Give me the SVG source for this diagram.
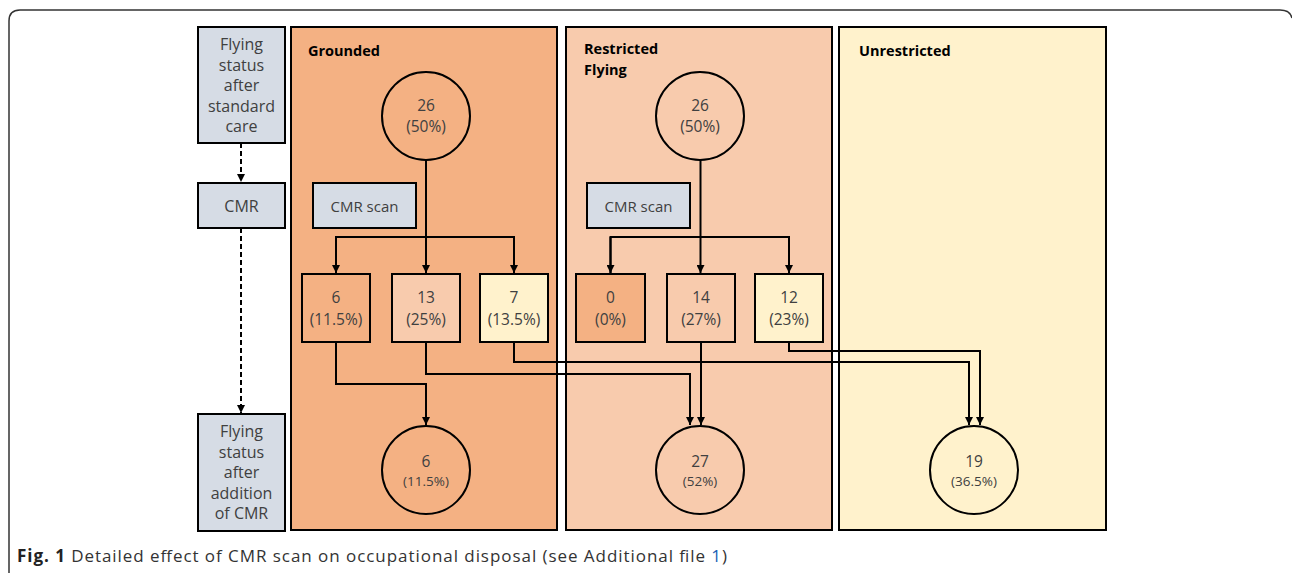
<svg xmlns="http://www.w3.org/2000/svg" width="1292" height="573" viewBox="0 0 1292 573">
<defs>
<marker id="arr" viewBox="0 0 10 10" refX="10" refY="5" markerWidth="4" markerHeight="4" orient="auto" markerUnits="strokeWidth">
<path d="M0,0 L10,5 L0,10 z" fill="#000"/>
</marker>
<style>
.panel{stroke:#000;stroke-width:2}
.g{fill:#F4B183}.r{fill:#F8CBAD}.u{fill:#FFF2CC}.b{fill:#D6DCE5}
.bx{stroke:#000;stroke-width:2}
.t{font-family:"Open Sans",sans-serif;fill:#404040;text-anchor:middle}
.h{font-family:"Open Sans",sans-serif;font-weight:bold;font-size:14.5px;fill:#000}
.c{fill:none;stroke:#000;stroke-width:2}
.d{fill:none;stroke:#000;stroke-width:2;stroke-dasharray:5,3}
.cap{font-family:"Open Sans",sans-serif;font-size:17px;fill:#333}
</style>
</defs>
<path d="M9,573 V21 Q9,10 20,10 H1280 Q1290,10 1292,18" fill="none" stroke="#333" stroke-width="1.5"/>

<g id="panel-grounded">
<rect class="panel g" x="291" y="27" width="266" height="503"/>
<text class="h" x="308" y="56">Grounded</text>
</g>
<g id="panel-restricted">
<rect class="panel r" x="566" y="27" width="266" height="503"/>
<text class="h" x="584" y="54">Restricted</text>
<text class="h" x="584" y="75">Flying</text>
</g>
<g id="panel-unrestricted">
<rect class="panel u" x="839" y="27" width="267" height="503"/>
<text class="h" x="859" y="56">Unrestricted</text>
</g>

<g id="left-before">
<rect class="bx b" x="198" y="27" width="87" height="116"/>
<text class="t" font-size="16" x="241.5" y="50">Flying</text>
<text class="t" font-size="16" x="241.5" y="70.5">status</text>
<text class="t" font-size="16" x="241.5" y="91">after</text>
<text class="t" font-size="16" x="241.5" y="111.5">standard</text>
<text class="t" font-size="16" x="241.5" y="132">care</text>
</g>
<g id="left-cmr">
<rect class="bx b" x="198" y="183" width="87" height="45"/>
<text class="t" font-size="16" x="241.5" y="212">CMR</text>
</g>
<g id="left-after">
<rect class="bx b" x="198" y="414" width="87" height="117"/>
<text class="t" font-size="16" x="241.5" y="437">Flying</text>
<text class="t" font-size="16" x="241.5" y="457.5">status</text>
<text class="t" font-size="16" x="241.5" y="478">after</text>
<text class="t" font-size="16" x="241.5" y="498.5">addition</text>
<text class="t" font-size="16" x="241.5" y="519">of CMR</text>
</g>

<g id="g-top">
<circle class="bx" fill="#F4B183" cx="426" cy="116" r="44"/>
<text class="t" font-size="15.5" x="426" y="111">26</text>
<text class="t" font-size="15.5" x="426" y="132">(50%)</text>
</g>
<g id="g-scan">
<rect class="bx b" x="313" y="183" width="103" height="45"/>
<text class="t" font-size="15" x="364.5" y="211.5">CMR scan</text>
</g>
<g id="g-b1">
<rect class="bx g" x="302" y="274" width="68" height="68"/>
<text class="t" font-size="15.5" x="336" y="303">6</text>
<text class="t" font-size="15.5" x="336" y="325">(11.5%)</text>
</g>
<g id="g-b2">
<rect class="bx r" x="392" y="274" width="68" height="68"/>
<text class="t" font-size="15.5" x="426" y="303">13</text>
<text class="t" font-size="15.5" x="426" y="325">(25%)</text>
</g>
<g id="g-b3">
<rect class="bx u" x="480" y="274" width="68" height="68"/>
<text class="t" font-size="15.5" x="514" y="303">7</text>
<text class="t" font-size="15.5" x="514" y="325">(13.5%)</text>
</g>
<g id="g-bottom">
<circle class="bx" fill="#F4B183" cx="426" cy="470" r="44"/>
<text class="t" font-size="15.5" x="426" y="466.5">6</text>
<text class="t" font-size="13.5" x="426" y="486">(11.5%)</text>
</g>

<g id="r-top">
<circle class="bx" fill="#F8CBAD" cx="700" cy="116" r="44"/>
<text class="t" font-size="15.5" x="700" y="111">26</text>
<text class="t" font-size="15.5" x="700" y="132">(50%)</text>
</g>
<g id="r-scan">
<rect class="bx b" x="587" y="183" width="103" height="45"/>
<text class="t" font-size="15" x="638.5" y="211.5">CMR scan</text>
</g>
<g id="r-b1">
<rect class="bx g" x="576" y="274" width="69" height="68"/>
<text class="t" font-size="15.5" x="610.5" y="303">0</text>
<text class="t" font-size="15.5" x="610.5" y="325">(0%)</text>
</g>
<g id="r-b2">
<rect class="bx r" x="667" y="274" width="68" height="68"/>
<text class="t" font-size="15.5" x="701" y="303">14</text>
<text class="t" font-size="15.5" x="701" y="325">(27%)</text>
</g>
<g id="r-b3">
<rect class="bx u" x="755" y="274" width="68" height="68"/>
<text class="t" font-size="15.5" x="789" y="303">12</text>
<text class="t" font-size="15.5" x="789" y="325">(23%)</text>
</g>
<g id="r-bottom">
<circle class="bx" fill="#F8CBAD" cx="700" cy="470" r="44"/>
<text class="t" font-size="15.5" x="700" y="466.5">27</text>
<text class="t" font-size="13.5" x="700" y="486">(52%)</text>
</g>

<g id="u-bottom">
<circle class="bx" fill="#FFF2CC" cx="974" cy="470" r="44"/>
<text class="t" font-size="15.5" x="974" y="466.5">19</text>
<text class="t" font-size="13.5" x="974" y="486">(36.5%)</text>
</g>

<g id="connectors">
<path class="d" d="M241,143 V182" marker-end="url(#arr)"/>
<path class="d" d="M241,228 V413" marker-end="url(#arr)"/>
<path class="c" d="M426,160 V273" marker-end="url(#arr)"/>
<path class="c" d="M336,273 V237 H514 V273" marker-end="url(#arr)"/>
<path class="c" d="M336,237 V273" marker-end="url(#arr)"/>
<path class="c" d="M700.5,160 V273" marker-end="url(#arr)"/>
<path class="c" d="M610.5,273 V237 H789 V273" marker-end="url(#arr)"/>
<path class="c" d="M610.5,237 V273" marker-end="url(#arr)"/>
<path class="c" d="M336,342 V384 H426 V425" marker-end="url(#arr)"/>
<path class="c" d="M426,342 V374 H690 V425" marker-end="url(#arr)"/>
<path class="c" d="M514,342 V362 H969 V425" marker-end="url(#arr)"/>
<path class="c" d="M701,342 V425" marker-end="url(#arr)"/>
<path class="c" d="M789,342 V351 H980 V425" marker-end="url(#arr)"/>
</g>

<text class="cap" x="17" y="562" textLength="710" lengthAdjust="spacing"><tspan font-weight="bold" fill="#222">Fig. 1</tspan> Detailed effect of CMR scan on occupational disposal (see Additional file <tspan fill="#1a5fb4">1</tspan>)</text>
</svg>
